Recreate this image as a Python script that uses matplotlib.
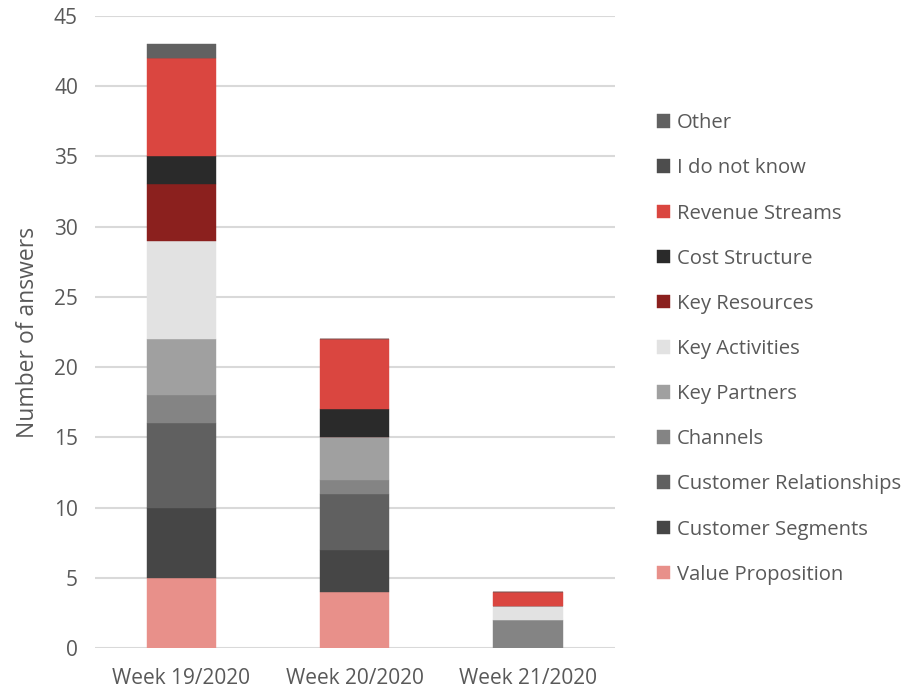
import numpy as np
import matplotlib.pyplot as plt

weeks = ["Week 19/2020", "Week 20/2020", "Week 21/2020"]
series = ["Value Proposition", "Customer Segments", "Customer Relationships",
          "Channels", "Key Partners", "Key Activities", "Key Resources",
          "Cost Structure", "Revenue Streams", "I do not know", "Other"]
values = {
    "Value Proposition":      [5, 4, 0],
    "Customer Segments":      [5, 3, 0],
    "Customer Relationships": [6, 4, 0],
    "Channels":               [2, 1, 2],
    "Key Partners":           [4, 3, 0],
    "Key Activities":         [7, 0, 1],
    "Key Resources":          [4, 0, 0],
    "Cost Structure":         [2, 2, 0],
    "Revenue Streams":        [7, 5, 1],
    "I do not know":          [0, 0, 0],
    "Other":                  [1, 0, 0],
}
colors = ["#e8908a", "#464646", "#606060", "#848484", "#a0a0a0", "#e2e2e2",
          "#8b201e", "#2a2a2a", "#da4640", "#4d4d4d", "#616161"]

txt = "#595959"
plt.rcParams['font.family'] = ['Open Sans', 'DejaVu Sans']

fig = plt.figure(figsize=(9.19, 6.91), dpi=100)
ax = fig.add_axes([0.103, 0.062, 0.566, 0.915])

x = np.arange(len(weeks))
bottom = np.zeros(len(weeks))
for name, c in zip(series, colors):
    v = np.array(values[name], dtype=float)
    ax.bar(x, v, 0.4, bottom=bottom, color=c, label=name, zorder=3,
           edgecolor=c, linewidth=0.3)
    bottom += v

ax.set_xlim(-0.5, 2.5)
ax.set_ylim(0, 45)
ax.set_yticks(range(0, 46, 5))
ax.set_xticks(x)
ax.set_xticklabels(weeks)
ax.yaxis.grid(True, color="#d9d9d9", linewidth=1.5, zorder=0)
for s in ax.spines.values():
    s.set_visible(False)
ax.tick_params(length=0, colors=txt, labelsize=15)
ax.tick_params(axis="x", pad=14)
ax.tick_params(axis="y", pad=12)
ax.set_ylabel("Number of answers", color=txt, fontsize=16.5, labelpad=10)

h, l = ax.get_legend_handles_labels()
fig.legend(h[::-1], l[::-1], loc="center left", bbox_to_anchor=(0.695, 0.495),
           frameon=False, fontsize=14.6, labelcolor=txt, handlelength=0.65,
           handleheight=0.65, handletextpad=0.35, labelspacing=1.24)

fig.savefig("out.png", dpi=100)
